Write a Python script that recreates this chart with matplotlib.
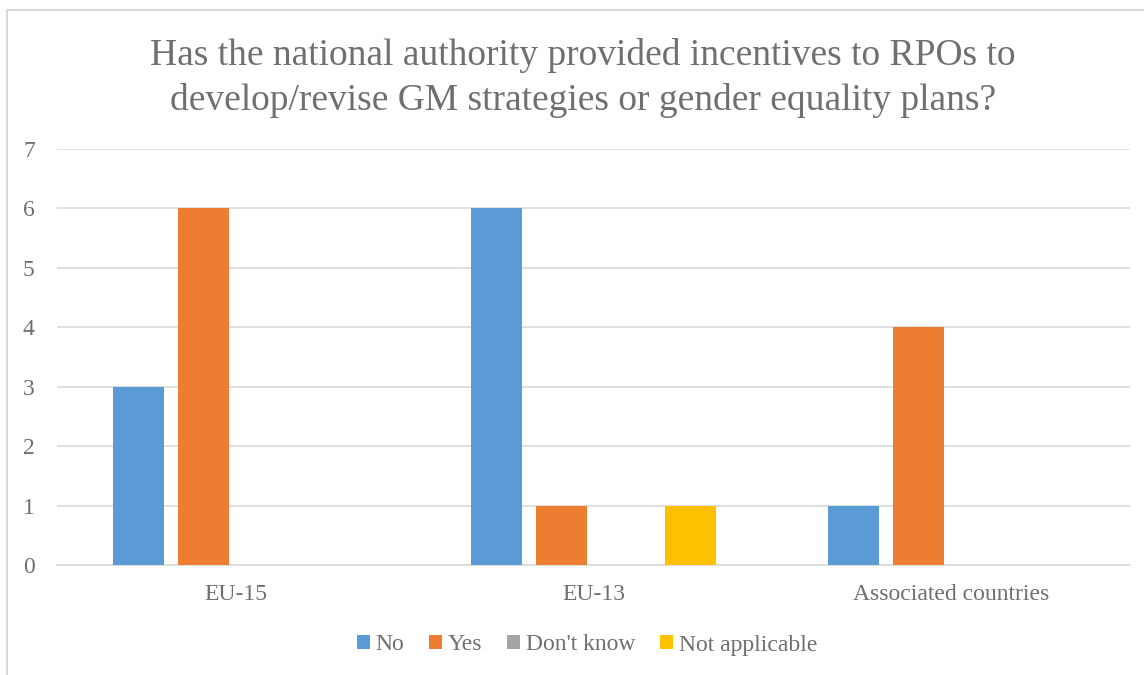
import matplotlib
matplotlib.use("Agg")
import matplotlib.pyplot as plt
import numpy as np
from matplotlib.patches import Rectangle

categories = ["EU-15", "EU-13", "Associated countries"]
series_names = ["No", "Yes", "Don't know", "Not applicable"]
no_vals = [3, 6, 1]
yes_vals = [6, 1, 4]
dontknow_vals = [0, 0, 0]
na_vals = [0, 1, 0]
colors = ["#5B9BD5", "#ED7D31", "#A5A5A5", "#FFC000"]
yticks = [0, 1, 2, 3, 4, 5, 6, 7]

plt.rcParams['font.family'] = ['Liberation Serif', 'DejaVu Serif']
txt = '#6f6f6f'

W, H = 1144, 675
fig = plt.figure(figsize=(W/100, H/100), dpi=100)
fig.patch.set_facecolor('white')
fig.add_artist(Rectangle((7/W, -0.05), 1.2, (675-10)/H + 0.05, transform=fig.transFigure,
                         fill=False, edgecolor='#d9d9d9', linewidth=1.5))

ax = fig.add_axes([57/W, (675-565)/H, (1130-57)/W, (565-149)/H])
x = np.arange(len(categories))
step = 0.1817
bw = 0.1426
data = [no_vals, yes_vals, dontknow_vals, na_vals]
for i, (name, vals, c) in enumerate(zip(series_names, data, colors)):
    ax.bar(x + (i - 1.5) * step, vals, width=bw, color=c, label=name, zorder=3)

ax.set_xlim(-0.5, len(categories) - 0.5)
ax.set_ylim(0, 7)
ax.set_yticks(yticks)
ax.set_xticks(x)
ax.set_xticklabels(categories)
ax.tick_params(axis='both', length=0, labelsize=17, colors=txt)
ax.tick_params(axis='y', pad=16)
ax.tick_params(axis='x', pad=14)
ax.yaxis.grid(True, color='#d9d9d9', linewidth=1.2, zorder=0)
for s in ['top', 'right', 'left']:
    ax.spines[s].set_visible(False)
ax.spines['bottom'].set_color('#d9d9d9')
ax.spines['bottom'].set_linewidth(1.2)

fig.text(583/W, 1 - 78/H,
         "Has the national authority provided incentives to RPOs to\ndevelop/revise GM strategies or gender equality plans?",
         ha='center', va='center', fontsize=27, color=txt, linespacing=1.38)

leg = fig.legend(loc='center', bbox_to_anchor=(587/W, 1 - 645/H), ncol=4, frameon=False,
                 fontsize=17, handlelength=0.55, handleheight=0.55, handletextpad=0.25,
                 columnspacing=1.05, labelcolor=txt)
plt.savefig('out.png', dpi=100)
